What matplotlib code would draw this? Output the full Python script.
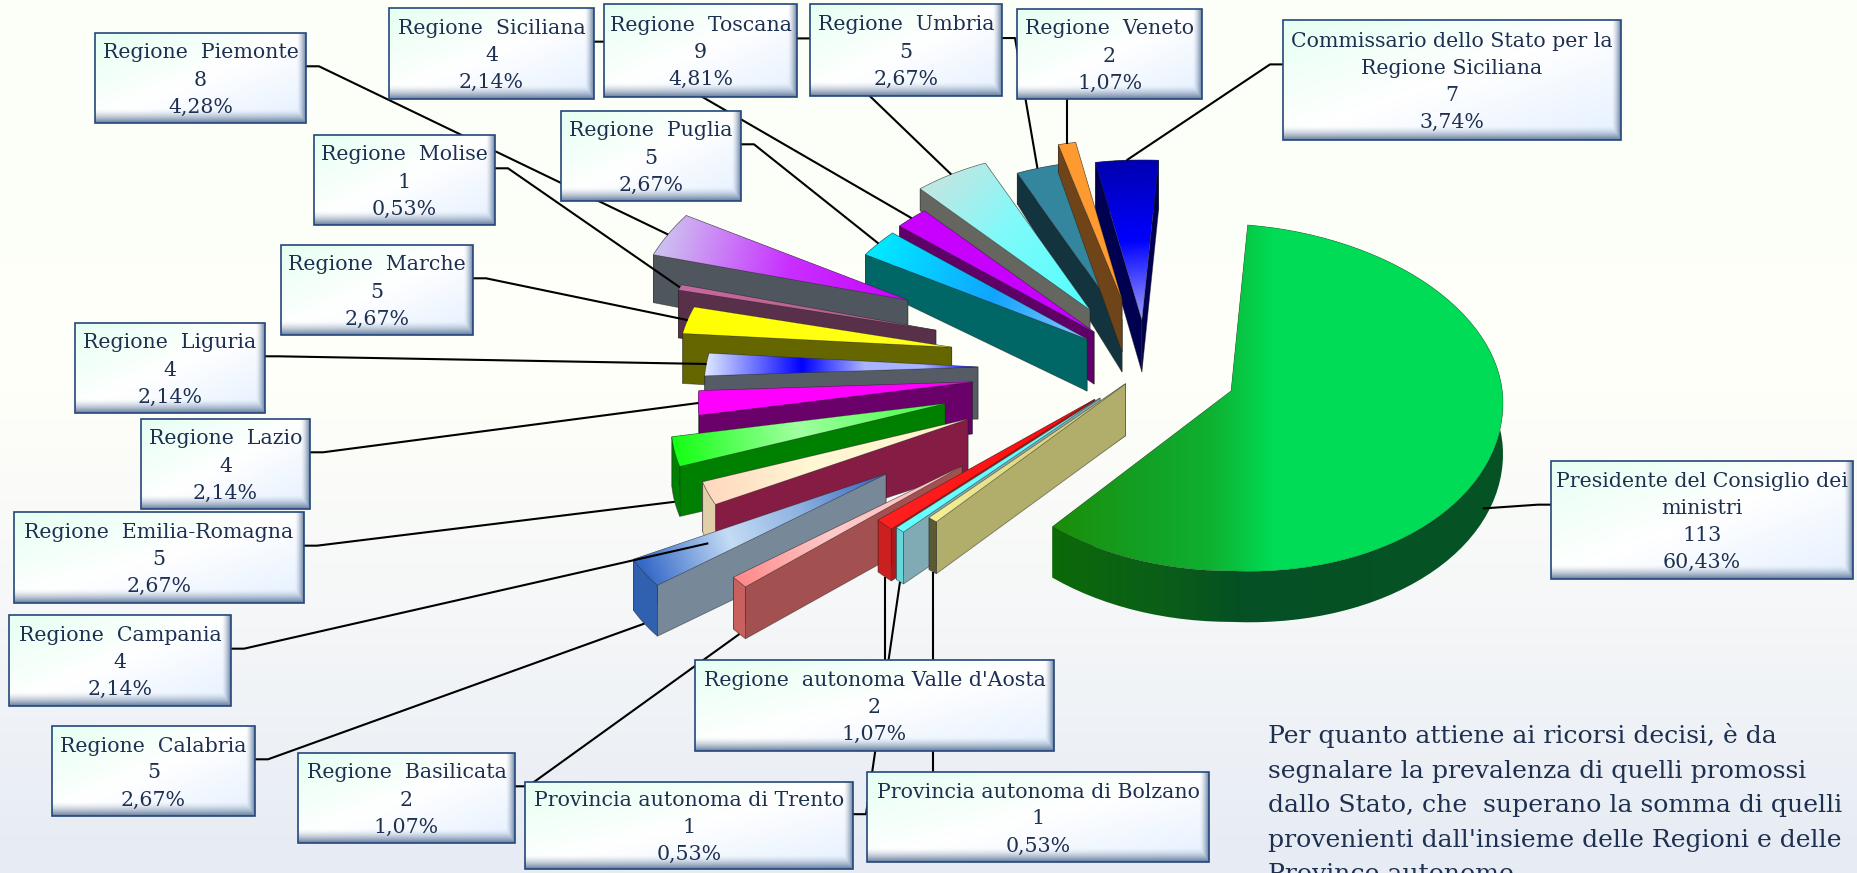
import numpy as np
import matplotlib
matplotlib.use("Agg")
import matplotlib.pyplot as plt
from matplotlib.colors import to_rgb
from matplotlib.patches import Polygon, Rectangle

# data, clockwise from the big slice
labels = [
    "Presidente del Consiglio dei\nministri", "Provincia autonoma di Bolzano",
    "Provincia autonoma di Trento", "Regione  autonoma Valle d'Aosta",
    "Regione  Basilicata", "Regione  Calabria", "Regione  Campania",
    "Regione  Emilia-Romagna", "Regione  Lazio", "Regione  Liguria",
    "Regione  Marche", "Regione  Molise", "Regione  Piemonte", "Regione  Puglia",
    "Regione  Siciliana", "Regione  Toscana", "Regione  Umbria", "Regione  Veneto",
    "Commissario dello Stato per la\nRegione Siciliana",
]
counts = [113, 1, 1, 2, 2, 5, 4, 5, 4, 4, 5, 1, 8, 5, 4, 9, 5, 2, 7]
percents = ["60,43%", "0,53%", "0,53%", "1,07%", "1,07%", "2,67%", "2,14%", "2,67%",
            "2,14%", "2,14%", "2,67%", "0,53%", "4,28%", "2,67%", "2,14%", "4,81%",
            "2,67%", "1,07%", "3,74%"]
note = ("Per quanto attiene ai ricorsi decisi, è da\n"
        "segnalare la prevalenza di quelli promossi\n"
        "dallo Stato, che  superano la somma di quelli\n"
        "provenienti dall'insieme delle Regioni e delle\n"
        "Province autonome.")

# pie layout, in pixels of the output
CENTER = (1146, 370)
RX, RY_UP, RY_DOWN = 272, 163, 187
START = 3.5
DEPTH = 52
explode = [.332, .105, .226, .245, .849, 1.106, .705, .76, .642, .618, .728, .81,
           .975, .288, .301, .422, .319, .438, .307]
turn = [-2.6, 3.7, 4.5, 3.4, 2.1, 2.4, 2.1, 1.6, .9, .6, 1.3, 2, 1.9, 4.5, 5.3, 2.9,
        2.6, .3, .4]
outer_depth = [51, 52, 52, 52, 52, 51, 50, 50, 50, 50, 50, 48, 48, 30, 30, 22, 31, 28, 50]
# back to front
draw_order = [18, 16, 17, 15, 14, 13, 12, 11, 10, 9, 8, 7, 6, 5, 4, 3, 2, 1, 0]

# top face colours, apex (0) to rim (1); the big slice runs left to right
top_stops = [
    [(0, "#1c8c08"), (.2, "#13a024"), (.35, "#0fb030"), (.49, "#00dc55"), (1, "#00dc55")],
    [(0, "#c8c47a"), (1, "#f6ef96")],
    [(0, "#66ffff"), (1, "#66ffff")],
    [(0, "#ff0808"), (1, "#ff2020")],
    [(0, "#ffc0c0"), (.6, "#ffc8c8"), (1, "#ff8a8a")],
    [(0, "#3060c0"), (.35, "#8cb0e0"), (.65, "#c4dcf4"), (1, "#3468c8")],
    [(0, "#fff2c8"), (.6, "#fff8d4"), (1, "#ffd8c0")],
    [(0, "#40ff40"), (.55, "#a0ffa0"), (1, "#14ff14")],
    [(0, "#ff00ff"), (1, "#ff00ff")],
    [(0, "#0000ff"), (.2, "#a8b4ff"), (.42, "#a8b4ff"), (.65, "#0000ff"), (1, "#dce6ff")],
    [(0, "#ffff20"), (1, "#ffff00")],
    [(0, "#b06088"), (1, "#c868a0")],
    [(0, "#c800ff"), (.5, "#c830ff"), (1, "#cdbcf0")],
    [(0, "#90c4ff"), (.45, "#10a4ff"), (1, "#00e8ff")],
    [(0, "#c800ff"), (1, "#c800ff")],
    [(0, "#50ffff"), (.6, "#80fafa"), (1, "#bce8e4")],
    [(0, "#33869e"), (1, "#33869e")],
    [(0, "#ff9a30"), (1, "#ff9a30")],
    [(0, "#a0a0ff"), (.5, "#0000ff"), (1, "#0000b0")],
]
side_colors = ["#0b6414", "#b0ae6a", "#80aab4", "#aa1a1a", "#a35050", "#778899", "#851c44",
               "#008000", "#6a006a", "#555c66", "#666600", "#58304a", "#50565e", "#006666",
               "#5e0068", "#666660", "#13343e", "#6e4418", "#000050"]
rim_colors = ["#0b6414", "#5c5a32", "#66d6dc", "#cc2020", "#c86060", "#3060b0", "#e0cfa8",
              "#008000", "#6a006a", "#555c66", "#666600", "#58304a", "#50565e", "#006666",
              "#5e0068", "#666660", "#13343e", "#6e4418", "#000050"]
main_side_stops = [(0, "#0c6a08"), (.25, "#0a5e18"), (.42, "#055024"), (1, "#055426")]

# label boxes: left, top, right, bottom
boxes = [
    (1551, 461, 1853, 579), (867, 772, 1209, 862), (525, 782, 853, 869), (695, 660, 1054, 751),
    (298, 753, 515, 843), (52, 726, 255, 816), (9, 615, 231, 706), (14, 512, 304, 603),
    (141, 419, 310, 509), (75, 323, 265, 413), (281, 245, 473, 335), (314, 135, 495, 225),
    (95, 33, 306, 123), (561, 111, 741, 201), (389, 8, 594, 99), (604, 4, 797, 97),
    (810, 4, 1002, 96), (1017, 9, 1202, 99), (1283, 20, 1621, 140),
]
box_text = "#1e3050"
vertical_leader = {1, 3, 17}

plt.rcParams["font.family"] = ["DejaVu Serif"]
fig = plt.figure(figsize=(18.57, 8.73), dpi=100)
ax = fig.add_axes([0, 0, 1, 1])
ax.set_xlim(0, 1857)
ax.set_ylim(873, 0)
ax.set_autoscale_on(False)
ax.axis("off")


def hexes(stops, t):
    pos = [s[0] for s in stops]
    rgb = np.array([to_rgb(s[1]) for s in stops])
    return np.dstack([np.interp(t, pos, rgb[:, k]) for k in range(3)])


def radial(phi):
    # direction of the explosion: plain ellipse
    a = np.radians(phi)
    c = np.cos(a)
    return RX * np.sin(a), -np.where(c >= 0, RY_UP, RY_DOWN) * c


def rim_vector(phi, main=False):
    # the picture's perspective pulls the rim: wider lower left, narrower upper left
    phi = np.asarray(phi, dtype=float)
    a = np.radians(phi)
    s, c = np.sin(a), np.cos(a)
    if main:
        y = -np.where(c >= 0, 167, 180) * c + 12 * np.maximum(s, 0)
        return RX * s, y
    d = np.radians(phi - 180) * 2
    stretch = np.where(phi < 270, 1 + .06 * np.sin(d), 1 + .045 * np.sin(d))
    return RX * s * stretch, -np.where(c >= 0, 160, 183) * c


def gradient_poly(pts, stops, axis, z, tmin=None, tmax=None):
    pts = np.asarray(pts)
    x0, y0 = np.floor(pts.min(axis=0))
    x1, y1 = np.ceil(pts.max(axis=0))
    xx, yy = np.meshgrid(np.arange(x0, x1 + 1), np.arange(y0, y1 + 1))
    proj = xx * axis[0] + yy * axis[1]
    vals = pts[:, 0] * axis[0] + pts[:, 1] * axis[1]
    lo = vals.min() if tmin is None else tmin
    hi = vals.max() if tmax is None else tmax
    t = np.clip((proj - lo) / (hi - lo), 0, 1)
    im = ax.imshow(hexes(stops, t), extent=(x0, x1 + 1, y1 + 1, y0), aspect="auto",
                   zorder=z, interpolation="bilinear")
    clip = Polygon(pts, closed=True, transform=ax.transData, fc="none", ec="none")
    ax.add_patch(clip)
    im.set_clip_path(clip)


# background
yy = np.linspace(0, 1, 256)[:, None]
bg = hexes([(0, "#fbfff8"), (.45, "#fefff8"), (.7, "#f5f7f8"), (1, "#e6ebf4")], yy)
ax.imshow(bg, extent=(0, 1857, 873, 0), aspect="auto", zorder=0)

# slices
total = sum(counts)
edges = START + np.concatenate([[0], np.cumsum(counts)]) * 360 / total
anchors = {}
z = 1
for i in draw_order:
    mid = (edges[i] + edges[i + 1]) / 2
    ex, ey = radial(mid + turn[i])
    apex = np.array([CENTER[0] + explode[i] * ex, CENTER[1] + explode[i] * ey])
    phis = np.linspace(edges[i], edges[i + 1], 80 if i == 0 else 14)
    rx, ry = rim_vector(phis, i == 0)
    rim = np.column_stack([apex[0] + rx, apex[1] + ry])
    rim_low = rim + [0, outer_depth[i]]
    apex_low = apex + [0, DEPTH]

    faces = [
        (np.vstack([apex, rim[0], rim_low[0], apex_low]), side_colors[i]),
        (np.vstack([apex, rim[-1], rim_low[-1], apex_low]), side_colors[i]),
        (np.vstack([rim, rim_low[::-1]]), rim_colors[i]),
    ]
    for pts, col in sorted(faces, key=lambda f: f[0][:, 1].mean()):
        if i == 0:
            gradient_poly(pts, main_side_stops, (1, 0), z, 1050, 1504)
            z += 1
            continue
        ax.add_patch(Polygon(pts, closed=True, fc=col, ec="#20202080", lw=.6, zorder=z))
        z += 1

    top = np.vstack([apex, rim])
    mx, my = rim_vector(mid, i == 0)
    if i == 0:
        gradient_poly(top, top_stops[i], (1, 0), z, 1050, 1504)
    else:
        length = np.hypot(mx, my)
        axis = (mx / length, my / length)
        base = apex[0] * axis[0] + apex[1] * axis[1]
        gradient_poly(top, top_stops[i], axis, z, base, base + length)
    z += 1
    ax.add_patch(Polygon(top, closed=True, fc="none", ec="#30303060", lw=.5, zorder=z))
    z += 1

    drop = outer_depth[i] if 90 < mid < 260 else 0
    if i == 0:
        drop = .75 * outer_depth[i]
    anchors[i] = (apex[0] + mx, apex[1] + my + drop)

# leaders and label boxes
for i, (l, t, r, b) in enumerate(boxes):
    ax_, ay_ = anchors[i]
    sy = t + .37 * (b - t)
    if i in vertical_leader:
        sy_edge = b if ay_ > b and t < 300 else t
        xs, ys = [ax_, ax_], [sy_edge, ay_]
    elif ax_ < l:
        xs, ys = [l, l - 13, ax_], [sy, sy, ay_]
    else:
        xs, ys = [r, r + 13, ax_], [sy, sy, ay_]
    ax.plot(xs, ys, color="black", lw=1.5, zorder=500, solid_capstyle="butt")

for i, (l, t, r, b) in enumerate(boxes):
    w, h = int(r - l), int(b - t)
    u, v = np.meshgrid(np.linspace(0, 1, w), np.linspace(0, 1, h))
    img = hexes([(0, "#e6fff2"), (.5, "#ffffff"), (1, "#e4f0ff")], (u + v) / 2)
    py, px = np.mgrid[0:h, 0:w]
    shade = np.array(to_rgb("#5a7395"))
    low = np.clip(1 - (h - py) / 15, 0, 1) ** 1.6
    right = np.clip(1 - (w - px) / 10, 0, 1) ** 1.6
    alpha = np.maximum(low, right)[..., None]
    img = img * (1 - alpha) + shade * alpha
    ax.imshow(img, extent=(l, r, b, t), aspect="auto", zorder=600)
    ax.add_patch(Rectangle((l, t), r - l, b - t, fc="none", ec="#24477a", lw=1.2, zorder=601))
    lines = labels[i].split("\n") + [str(counts[i]), percents[i]]
    for k, line in enumerate(lines):
        y = (t + b) / 2 + 2 + (k - (len(lines) - 1) / 2) * 27
        ax.text((l + r) / 2, y, line, ha="center", va="center", fontsize=14.8,
                color=box_text, zorder=602)

for k, line in enumerate(note.split("\n")):
    ax.text(1268, 743 + k * 34.6, line, ha="left", va="baseline", fontsize=18.1,
            color=box_text, zorder=602)

fig.savefig("out.png", dpi=100)
